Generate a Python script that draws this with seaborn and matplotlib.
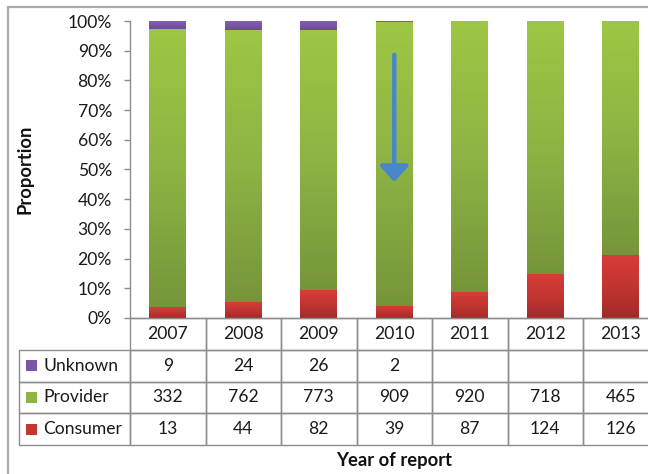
import numpy as np
import pandas as pd
import matplotlib
matplotlib.use("Agg")
import matplotlib.pyplot as plt
import seaborn as sns
from matplotlib.patches import Rectangle
from matplotlib.table import Table
from matplotlib.ticker import PercentFormatter
from matplotlib.colors import LinearSegmentedColormap

# Reports per year, by who raised them
years = ["2007", "2008", "2009", "2010", "2011", "2012", "2013"]
unknown = [9, 24, 26, 2, np.nan, np.nan, np.nan]
provider = [332, 762, 773, 909, 920, 718, 465]
consumer = [13, 44, 82, 39, 87, 124, 126]
table_rows = ["Unknown", "Provider", "Consumer"]

sns.set_theme(style="ticks")
plt.rcParams["font.family"] = ["Lato", "DejaVu Sans"]

counts = pd.DataFrame({"Year": years, "Unknown": unknown,
                       "Provider": provider, "Consumer": consumer})
stack_order = ["Consumer", "Provider", "Unknown"]
vals = counts[stack_order].fillna(0)
share = vals.div(vals.sum(axis=1), axis=0)

# Gradient stops (bottom -> top) of each segment
palette = {
    "Consumer": ["#A22A2A", "#C23531", "#D73D38"],
    "Provider": ["#76953A", "#8DB444", "#9DC743"],
    "Unknown": ["#6E4A98", "#7A55A6", "#8460B0"],
}

W, H = 648, 474
fig = plt.figure(figsize=(W / 100, H / 100), dpi=100)
ax = fig.add_axes([130 / W, 1 - 318 / H, 528.5 / W, 297 / H])

bottom = np.zeros(len(years))
groups = {}
for name in stack_order:
    n0 = len(ax.patches)
    sns.barplot(x=counts["Year"], y=share[name], bottom=bottom,
                color=palette[name][-1], saturation=1, width=0.49,
                linewidth=0, ax=ax)
    groups[name] = ax.patches[n0:]
    bottom = bottom + share[name].values

grad = np.linspace(0, 1, 256).reshape(-1, 1)
for name, patches in groups.items():
    cmap = LinearSegmentedColormap.from_list(name, palette[name])
    for p in patches:
        h = p.get_height()
        if not h > 0:
            continue
        x0, y0, w = p.get_x(), p.get_y(), p.get_width()
        im = ax.imshow(grad, cmap=cmap, origin="lower", aspect="auto",
                       extent=[x0, x0 + w, y0, y0 + h],
                       interpolation="bilinear", zorder=p.get_zorder() + 0.1)
        im.set_clip_path(p)

ax.set_xlim(-0.5, len(years) - 0.5)
ax.set_ylim(0, 1)
ax.yaxis.set_major_locator(plt.MultipleLocator(0.1))
ax.yaxis.set_major_formatter(PercentFormatter(1, decimals=0))

# Arrow marking the drop in 2010
ax.annotate("", xy=(3, 0.458), xytext=(3, 0.886),
            arrowprops=dict(arrowstyle="-|>,head_length=0.68,head_width=0.62",
                            color="#4A86CB", lw=3.2, shrinkA=0, shrinkB=0,
                            mutation_scale=14),
            zorder=5)

axis_grey = "#8C8C8C"
sns.despine(ax=ax)
for s in ("left", "bottom"):
    ax.spines[s].set_color(axis_grey)
    ax.spines[s].set_linewidth(1.0)
ax.tick_params(axis="y", length=4, width=1, color=axis_grey, pad=9,
               labelsize=12.6, labelcolor="#1A1A1A", direction="out")
ax.tick_params(axis="x", length=0, labelbottom=False)

ax.set_ylabel("Proportion", fontsize=13.2, fontweight="bold", color="#111111")
ax.yaxis.set_label_coords(-0.1835, 0.5)
ax.set_xlabel("Year of report", fontsize=13.2, fontweight="bold", color="#111111")
ax.xaxis.set_label_coords(0.5, -0.452)

# Data table under the bars: header row of years, then one row per source
label_w = 111 / 528.5
col_w = 1 / len(years)
n_rows = len(table_rows) + 1
row_h = (127 / 297) / n_rows
# bbox covers the year/value grid; the label column hangs off its left side
tbl = Table(ax, bbox=[0, -127 / 297, 1, 127 / 297])
tbl.auto_set_font_size(False)
for j, yr in enumerate(years):
    tbl.add_cell(0, j, width=col_w, height=row_h, text=yr, loc="center")
for i, r in enumerate(table_rows, start=1):
    lab = tbl.add_cell(i, -1, width=label_w, height=row_h, text=r, loc="left")
    lab.PAD = 24 / 111
    for j, v in enumerate(counts[r]):
        tbl.add_cell(i, j, width=col_w, height=row_h,
                     text="" if pd.isna(v) else f"{int(v)}", loc="center")
tbl.set_fontsize(12.6)
for cell in tbl.get_celld().values():
    cell.set_edgecolor(axis_grey)
    cell.set_linewidth(1.0)
    cell.set_facecolor("none")
    cell.get_text().set_color("#1A1A1A")
ax.add_table(tbl)

# Colour keys beside the row labels
for i, r in enumerate(table_rows):
    yc = -row_h * (i + 1.5)
    ax.add_patch(Rectangle(((26 - 130) / 528.5, yc - 5.5 / 297), 11 / 528.5, 11 / 297,
                           transform=ax.transAxes, clip_on=False,
                           facecolor=palette[r][1], edgecolor="none"))

# Outer frame
fig.patches.append(Rectangle((8 / W, -0.1), 1.2, 1 - 7 / H + 0.1,
                             transform=fig.transFigure, fill=False,
                             edgecolor="#ABABAB", linewidth=1.6))

fig.savefig("out.png", dpi=100)
